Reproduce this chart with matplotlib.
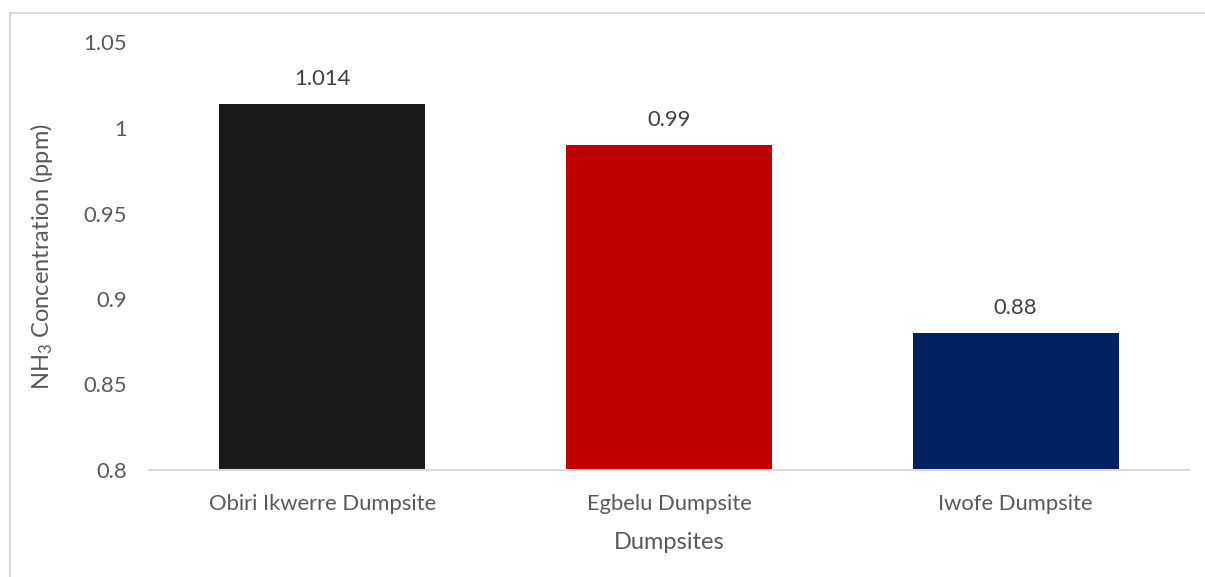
import matplotlib
matplotlib.use("Agg")
import matplotlib.pyplot as plt
from matplotlib.lines import Line2D

sites = ["Obiri Ikwerre Dumpsite", "Egbelu Dumpsite", "Iwofe Dumpsite"]
nh3_ppm = [1.014, 0.99, 0.88]
value_labels = ["1.014", "0.99", "0.88"]
bar_colors = ["#1a1a1a", "#c00000", "#002060"]
y_ticks = [0.8, 0.85, 0.9, 0.95, 1.0, 1.05]
y_tick_labels = ["0.8", "0.85", "0.9", "0.95", "1", "1.05"]

plt.rcParams["font.family"] = ["Lato", "DejaVu Sans"]
plt.rcParams["mathtext.default"] = "regular"
text_color = "#595959"

fig = plt.figure(figsize=(12.05, 5.77), dpi=100)
ax = fig.add_axes([149 / 1205, 1 - 470 / 577, 1040 / 1205, (470 - 42.5) / 577])

x = range(len(sites))
ax.bar(x, nh3_ppm, width=0.594, color=bar_colors, zorder=2)

for xi, v, lab in zip(x, nh3_ppm, value_labels):
    ax.annotate(lab, (xi, v), xytext=(0, 11), textcoords="offset points",
                ha="center", va="bottom", fontsize=15.8, color="#404040")

ax.set_xlim(-0.5, len(sites) - 0.5)
ax.set_ylim(0.8, 1.05)
ax.set_yticks(y_ticks)
ax.set_yticklabels(y_tick_labels)
ax.set_xticks(list(x))
ax.set_xticklabels(sites)

for side in ["top", "right", "left"]:
    ax.spines[side].set_visible(False)
ax.spines["bottom"].set_color("#d9d9d9")
ax.spines["bottom"].set_linewidth(1.5)
ax.tick_params(axis="both", length=0, labelsize=15.8, colors=text_color)
ax.tick_params(axis="y", pad=16)
ax.tick_params(axis="x", pad=17)

ax.set_xlabel("Dumpsites", fontsize=17, color=text_color, labelpad=13)
ax.set_ylabel("NH$_3$ Concentration (ppm)", fontsize=17, color=text_color, labelpad=20)

# outer chart frame (top and left edges)
frame_top = 1 - 13 / 577
frame_left = 10 / 1205
fig.add_artist(Line2D([frame_left, 1], [frame_top, frame_top], transform=fig.transFigure,
                      color="#d9d9d9", linewidth=1.5))
fig.add_artist(Line2D([frame_left, frame_left], [0, frame_top], transform=fig.transFigure,
                      color="#d9d9d9", linewidth=1.5))

fig.savefig("out.png", dpi=100)
